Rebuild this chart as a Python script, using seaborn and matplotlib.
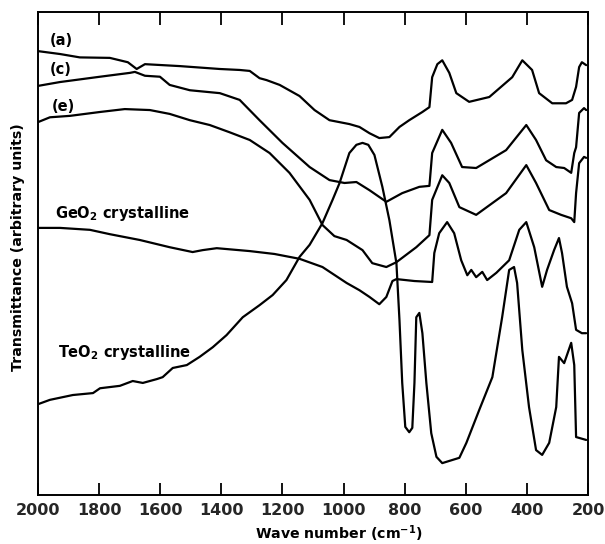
import numpy as np
import pandas as pd
import matplotlib
matplotlib.use("Agg")
import matplotlib.pyplot as plt
import seaborn as sns

# ---- data (wave number cm^-1, transmittance arb. units) ----
a_wn = [2000, 1928, 1863, 1765, 1706, 1677, 1650, 1536, 1405, 1340, 1307, 1275, 1252, 1209, 1144,
        1095, 1046, 981, 948, 915, 883, 850, 817, 785, 742, 719, 710, 693, 677, 654, 631, 589, 523,
        448, 415, 383, 360, 317, 272, 252, 239, 229, 220, 206]
a_t = [91.9, 91.3, 90.6, 90.5, 89.6, 88.2, 89.2, 88.8, 88.2, 88.0, 87.8, 86.3, 85.9, 84.9, 82.6,
       79.7, 77.6, 76.8, 76.2, 74.9, 73.9, 74.1, 76.2, 77.6, 79.3, 80.3, 86.5, 89.2, 90.0, 87.4, 83.2,
       81.4, 82.4, 86.5, 90.0, 88.0, 83.2, 81.1, 81.1, 81.8, 84.5, 88.6, 89.6, 89.0]

c_wn = [2000, 1928, 1797, 1699, 1683, 1650, 1601, 1569, 1503, 1405, 1340, 1275, 1200, 1111, 1046,
        997, 958, 915, 860, 808, 752, 719, 710, 677, 648, 612, 566, 468, 402, 370, 337, 304, 278,
        255, 245, 239, 229, 213, 206]
c_t = [84.7, 85.5, 86.6, 87.4, 87.6, 86.8, 86.6, 84.9, 83.8, 83.2, 81.8, 77.6, 72.9, 67.9, 65.2,
       64.6, 64.8, 63.1, 60.7, 62.5, 63.8, 64.0, 70.8, 75.6, 72.9, 67.9, 67.7, 71.4, 76.6, 73.5, 69.3,
       67.9, 67.7, 66.7, 70.8, 72.0, 79.1, 80.1, 79.7]

e_wn = [2000, 1961, 1895, 1797, 1716, 1634, 1569, 1503, 1438, 1373, 1307, 1242, 1177, 1111, 1069,
        1030, 990, 938, 906, 860, 827, 762, 719, 710, 677, 654, 621, 566, 468, 402, 370, 327, 288,
        255, 245, 239, 229, 213, 206]
e_t = [77.2, 78.2, 78.5, 79.3, 79.9, 79.7, 78.9, 77.6, 76.6, 75.1, 73.5, 70.8, 66.7, 61.1, 55.9,
       53.6, 52.8, 50.7, 48.0, 47.2, 48.2, 51.3, 53.8, 61.1, 66.2, 64.6, 59.6, 58.0, 62.5, 68.3, 64.6,
       59.0, 58.0, 57.3, 56.5, 62.5, 68.7, 70.0, 69.8]

geo2_wn = [2000, 1928, 1830, 1765, 1667, 1569, 1494, 1461, 1415, 1307, 1226, 1144, 1069, 990, 948,
           915, 883, 860, 840, 827, 768, 710, 703, 687, 661, 638, 615, 595, 582, 566, 546, 530, 500,
           458, 425, 402, 376, 350, 334, 311, 295, 285, 269, 252, 239, 220, 206]
geo2_t = [55.3, 55.3, 54.9, 54.0, 52.8, 51.3, 50.3, 50.7, 51.1, 50.5, 49.9, 48.9, 47.2, 43.9, 42.4,
          41.0, 39.5, 41.0, 44.3, 44.7, 44.3, 44.1, 50.1, 54.2, 56.5, 54.2, 48.6, 45.5, 46.6, 45.1,
          46.2, 44.5, 46.0, 48.6, 54.9, 56.5, 51.3, 43.1, 46.6, 50.7, 53.2, 50.1, 43.1, 39.7, 34.2,
          33.5, 33.5]

teo2_wn = [2000, 1961, 1886, 1820, 1797, 1732, 1690, 1657, 1611, 1592, 1559, 1513, 1471, 1428, 1383,
           1330, 1275, 1232, 1187, 1144, 1111, 1069, 1036, 1013, 981, 958, 938, 919, 899, 873, 850,
           827, 817, 808, 798, 785, 775, 768, 762, 752, 742, 729, 713, 696, 677, 621, 598, 556, 513,
           481, 458, 442, 432, 415, 393, 370, 350, 327, 304, 295, 278, 255, 245, 239, 206]
teo2_t = [18.8, 19.7, 20.7, 21.1, 22.1, 22.6, 23.6, 23.2, 24.0, 24.4, 26.3, 26.9, 28.6, 30.6, 33.1,
          36.8, 39.3, 41.4, 44.5, 49.3, 51.8, 56.3, 61.1, 64.6, 70.8, 72.5, 72.9, 72.5, 70.4, 63.8,
          56.9, 48.0, 36.2, 23.2, 14.1, 13.0, 13.9, 23.2, 36.8, 37.7, 33.5, 23.2, 12.8, 7.9, 6.6,
          7.7, 10.8, 17.6, 24.4, 36.8, 46.6, 47.2, 43.9, 30.0, 18.2, 9.3, 8.3, 10.8, 18.2, 28.6,
          27.3, 31.5, 26.9, 12.0, 11.4]

curve_names = ["(a)", "(c)", "(e)", "GeO2", "TeO2"]
x_ticks = [2000, 1800, 1600, 1400, 1200, 1000, 800, 600, 400, 200]

frames = []
for name, wn, t in zip(curve_names,
                       [a_wn, c_wn, e_wn, geo2_wn, teo2_wn],
                       [a_t, c_t, e_t, geo2_t, teo2_t]):
    frames.append(pd.DataFrame({"wn": wn, "T": t, "curve": name}))
df = pd.concat(frames, ignore_index=True)

sns.set_style("white")
plt.rcParams["font.family"] = ["DejaVu Sans"]
plt.rcParams["mathtext.default"] = "bf"

fig = plt.figure(figsize=(6.05, 5.44), dpi=100)
ax = fig.add_axes([38 / 605, 49 / 544, 550 / 605, 483 / 544])

sns.lineplot(data=df, x="wn", y="T", hue="curve", units="curve", estimator=None,
             palette=["black"] * 5, sort=False, legend=False, linewidth=1.6, ax=ax)

ax.set_xlim(2000, 200)
ax.set_ylim(0, 100)
ax.set_xticks(x_ticks)
ax.set_xticklabels([str(v) for v in x_ticks], fontsize=11.5, fontweight="bold")
ax.set_yticks([])
ax.tick_params(axis="x", which="both", direction="in", length=9, width=1.3,
               top=True, bottom=True, pad=6, color="black")
for s in ax.spines.values():
    s.set_visible(True)
    s.set_color("black")
    s.set_linewidth(1.4)

ax.set_xlabel("Wave number (cm$^{-1}$)", fontsize=10.2, fontweight="bold", color="black")
ax.xaxis.set_label_coords(0.547, -0.058)
ax.set_ylabel("Transmittance (arbitrary units)", fontsize=10.2, fontweight="bold", color="black")
ax.yaxis.set_label_coords(-0.024, 0.513)

lab_kw = dict(fontsize=10.5, fontweight="bold", va="center", ha="left", color="black")
ax.text(1961, 94.2, "(a)", **lab_kw)
ax.text(1961, 88.0, "(c)", **lab_kw)
ax.text(1954, 80.5, "(e)", **lab_kw)
ax.text(1944, 58.2, "GeO$_2$ crystalline", **lab_kw)
ax.text(1935, 29.6, "TeO$_2$ crystalline", **lab_kw)

fig.savefig("out.png", dpi=100, facecolor="white")
